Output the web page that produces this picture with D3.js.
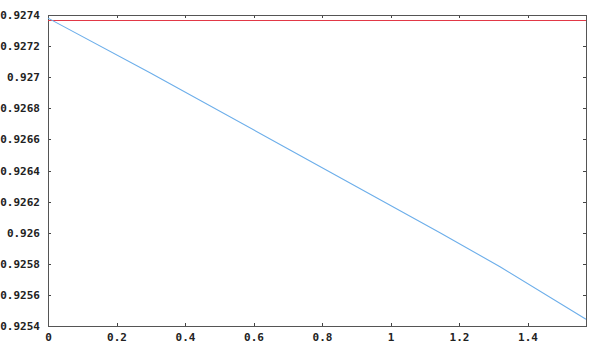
<!DOCTYPE html>
<html><head><meta charset="utf-8">
<script src="https://cdn.jsdelivr.net/npm/d3@7"></script>
<style>body{margin:0;background:#fff}svg{display:block}</style>
</head><body>
<script>
const xTicks = [0, 0.2, 0.4, 0.6, 0.8, 1, 1.2, 1.4];
const yTicks = [0.9254, 0.9256, 0.9258, 0.926, 0.9262, 0.9264, 0.9266, 0.9268, 0.927, 0.9272, 0.9274];
const blueX = [0, 0.2978, 0.7066, 1.1445, 1.3197, 1.5708];
const blueY = [0.92738, 0.927029, 0.926532, 0.926000, 0.925781, 0.925443];
const redX = [0, 1.5708];
const redY = [0.927364, 0.927364];

const W = 591, H = 350;
const m = {left: 48, right: 5, top: 15, bottom: 24};
const svg = d3.select("body").append("svg").attr("width", W).attr("height", H);
const x = d3.scaleLinear().domain([0, Math.PI/2]).range([m.left, W - m.right]);
const y = d3.scaleLinear().domain([0.9254, 0.9274]).range([H - m.bottom, m.top]);
const font = "'DejaVu Sans Mono', monospace";
const fmt = d => String(+d.toFixed(6));

function styleAxis(g){
  g.select(".domain").remove();
  g.selectAll(".tick line").attr("stroke", "#444").attr("shape-rendering", "crispEdges");
  g.selectAll(".tick text").attr("fill", "#222").style("font-family", font).style("font-size", "11px").style("font-weight", "bold");
}
svg.append("g").attr("transform", `translate(0,${H - m.bottom})`)
  .call(d3.axisBottom(x).tickValues(xTicks).tickFormat(fmt).tickSize(-3).tickPadding(7)).call(styleAxis);
svg.append("g").attr("transform", `translate(0,${m.top})`)
  .call(d3.axisTop(x).tickValues(xTicks).tickFormat("").tickSize(-3)).call(styleAxis);
svg.append("g").attr("transform", `translate(${m.left},0)`)
  .call(d3.axisLeft(y).tickValues(yTicks).tickFormat(fmt).tickSize(-3).tickPadding(8)).call(styleAxis);
svg.append("g").attr("transform", `translate(${W - m.right},0)`)
  .call(d3.axisRight(y).tickValues(yTicks).tickFormat("").tickSize(-3)).call(styleAxis);

svg.append("rect").attr("x", m.left).attr("y", m.top)
  .attr("width", W - m.right - m.left).attr("height", H - m.bottom - m.top)
  .attr("fill", "none").attr("stroke", "#555").attr("stroke-width", 1).attr("shape-rendering", "crispEdges");

const line = d3.line().x(d => x(d[0])).y(d => y(d[1]));
svg.append("path").datum(redX.map((v, i) => [v, redY[i]]))
  .attr("d", line).attr("fill", "none").attr("stroke", "#e23846").attr("stroke-width", 1).attr("shape-rendering", "crispEdges");
svg.append("path").datum(blueX.map((v, i) => [v, blueY[i]]))
  .attr("d", line).attr("fill", "none").attr("stroke", "#6caeea").attr("stroke-width", 1.1);
</script>
</body></html>
